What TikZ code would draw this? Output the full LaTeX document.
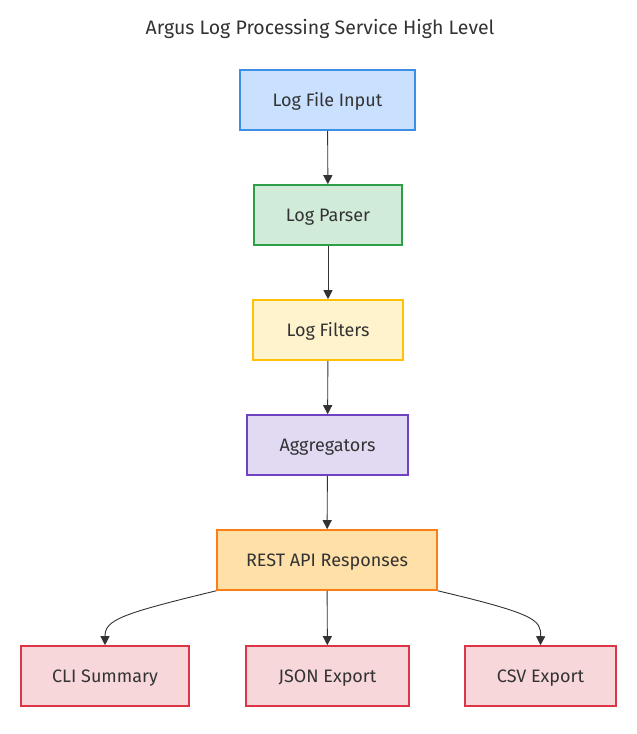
\documentclass[tikz,border=0pt]{standalone}
\usepackage{fontspec}
\setmainfont{Fira Sans}
\usetikzlibrary{arrows.meta}
\definecolor{bluefill}{HTML}{C9E1FF}
\definecolor{bluedraw}{HTML}{3D8FE6}
\definecolor{greenfill}{HTML}{D1EBD9}
\definecolor{greendraw}{HTML}{2E9E48}
\definecolor{yellowfill}{HTML}{FFF3CD}
\definecolor{yellowdraw}{HTML}{FFC107}
\definecolor{purplefill}{HTML}{E2D9F3}
\definecolor{purpledraw}{HTML}{6F42C1}
\definecolor{orangefill}{HTML}{FFE0A8}
\definecolor{orangedraw}{HTML}{FD7E14}
\definecolor{redfill}{HTML}{F8D7DA}
\definecolor{reddraw}{HTML}{DC3545}
\definecolor{txt}{HTML}{333333}
\definecolor{edge}{HTML}{333333}
\tikzset{
  box/.style={draw, line width=1.6pt, minimum height=60pt, inner sep=0pt, text=txt,
    text height=13.5pt, text depth=1.5pt, font=\fontsize{18}{21}\selectfont},
  conn/.style={draw=edge, line width=0.9pt, -{Triangle[length=9pt,width=9pt]}}
}
\begin{document}
\begin{tikzpicture}[x=1pt,y=-1pt]
\useasboundingbox[fill=white] (0,0) rectangle (637,734);
\node[text=txt, font=\fontsize{19.5}{22}\selectfont] (title) at (320,28.5) {Argus Log Processing Service High Level};
\node[box, fill=bluefill, draw=bluedraw, minimum width=175pt] (input) at (327.5,100) {Log File Input};
\node[box, fill=greenfill, draw=greendraw, minimum width=148pt] (parser) at (328,215) {Log Parser};
\node[box, fill=yellowfill, draw=yellowdraw, minimum width=150pt] (filters) at (328,330) {Log Filters};
\node[box, fill=purplefill, draw=purpledraw, minimum width=161pt] (agg) at (327.5,445) {Aggregators};
\node[box, fill=orangefill, draw=orangedraw, minimum width=220pt] (rest) at (327,560) {REST API Responses};
\node[box, fill=redfill, draw=reddraw, minimum width=168pt] (cli) at (105,676) {CLI Summary};
\node[box, fill=redfill, draw=reddraw, minimum width=163pt] (json) at (327.5,676) {JSON Export};
\node[box, fill=redfill, draw=reddraw, minimum width=151pt] (csv) at (540.5,676) {CSV Export};
\draw[conn] (input) -- (parser);
\draw[conn] (parser) -- (filters);
\draw[conn] (filters) -- (agg);
\draw[conn] (agg) -- (rest);
\draw[conn] (rest) -- (json);
\draw[conn] (rest.south west) .. controls (120,614) and (105,620) .. (cli.north);
\draw[conn] (rest.south east) .. controls (536,614) and (541,620) .. (csv.north);
\end{tikzpicture}
\end{document}
